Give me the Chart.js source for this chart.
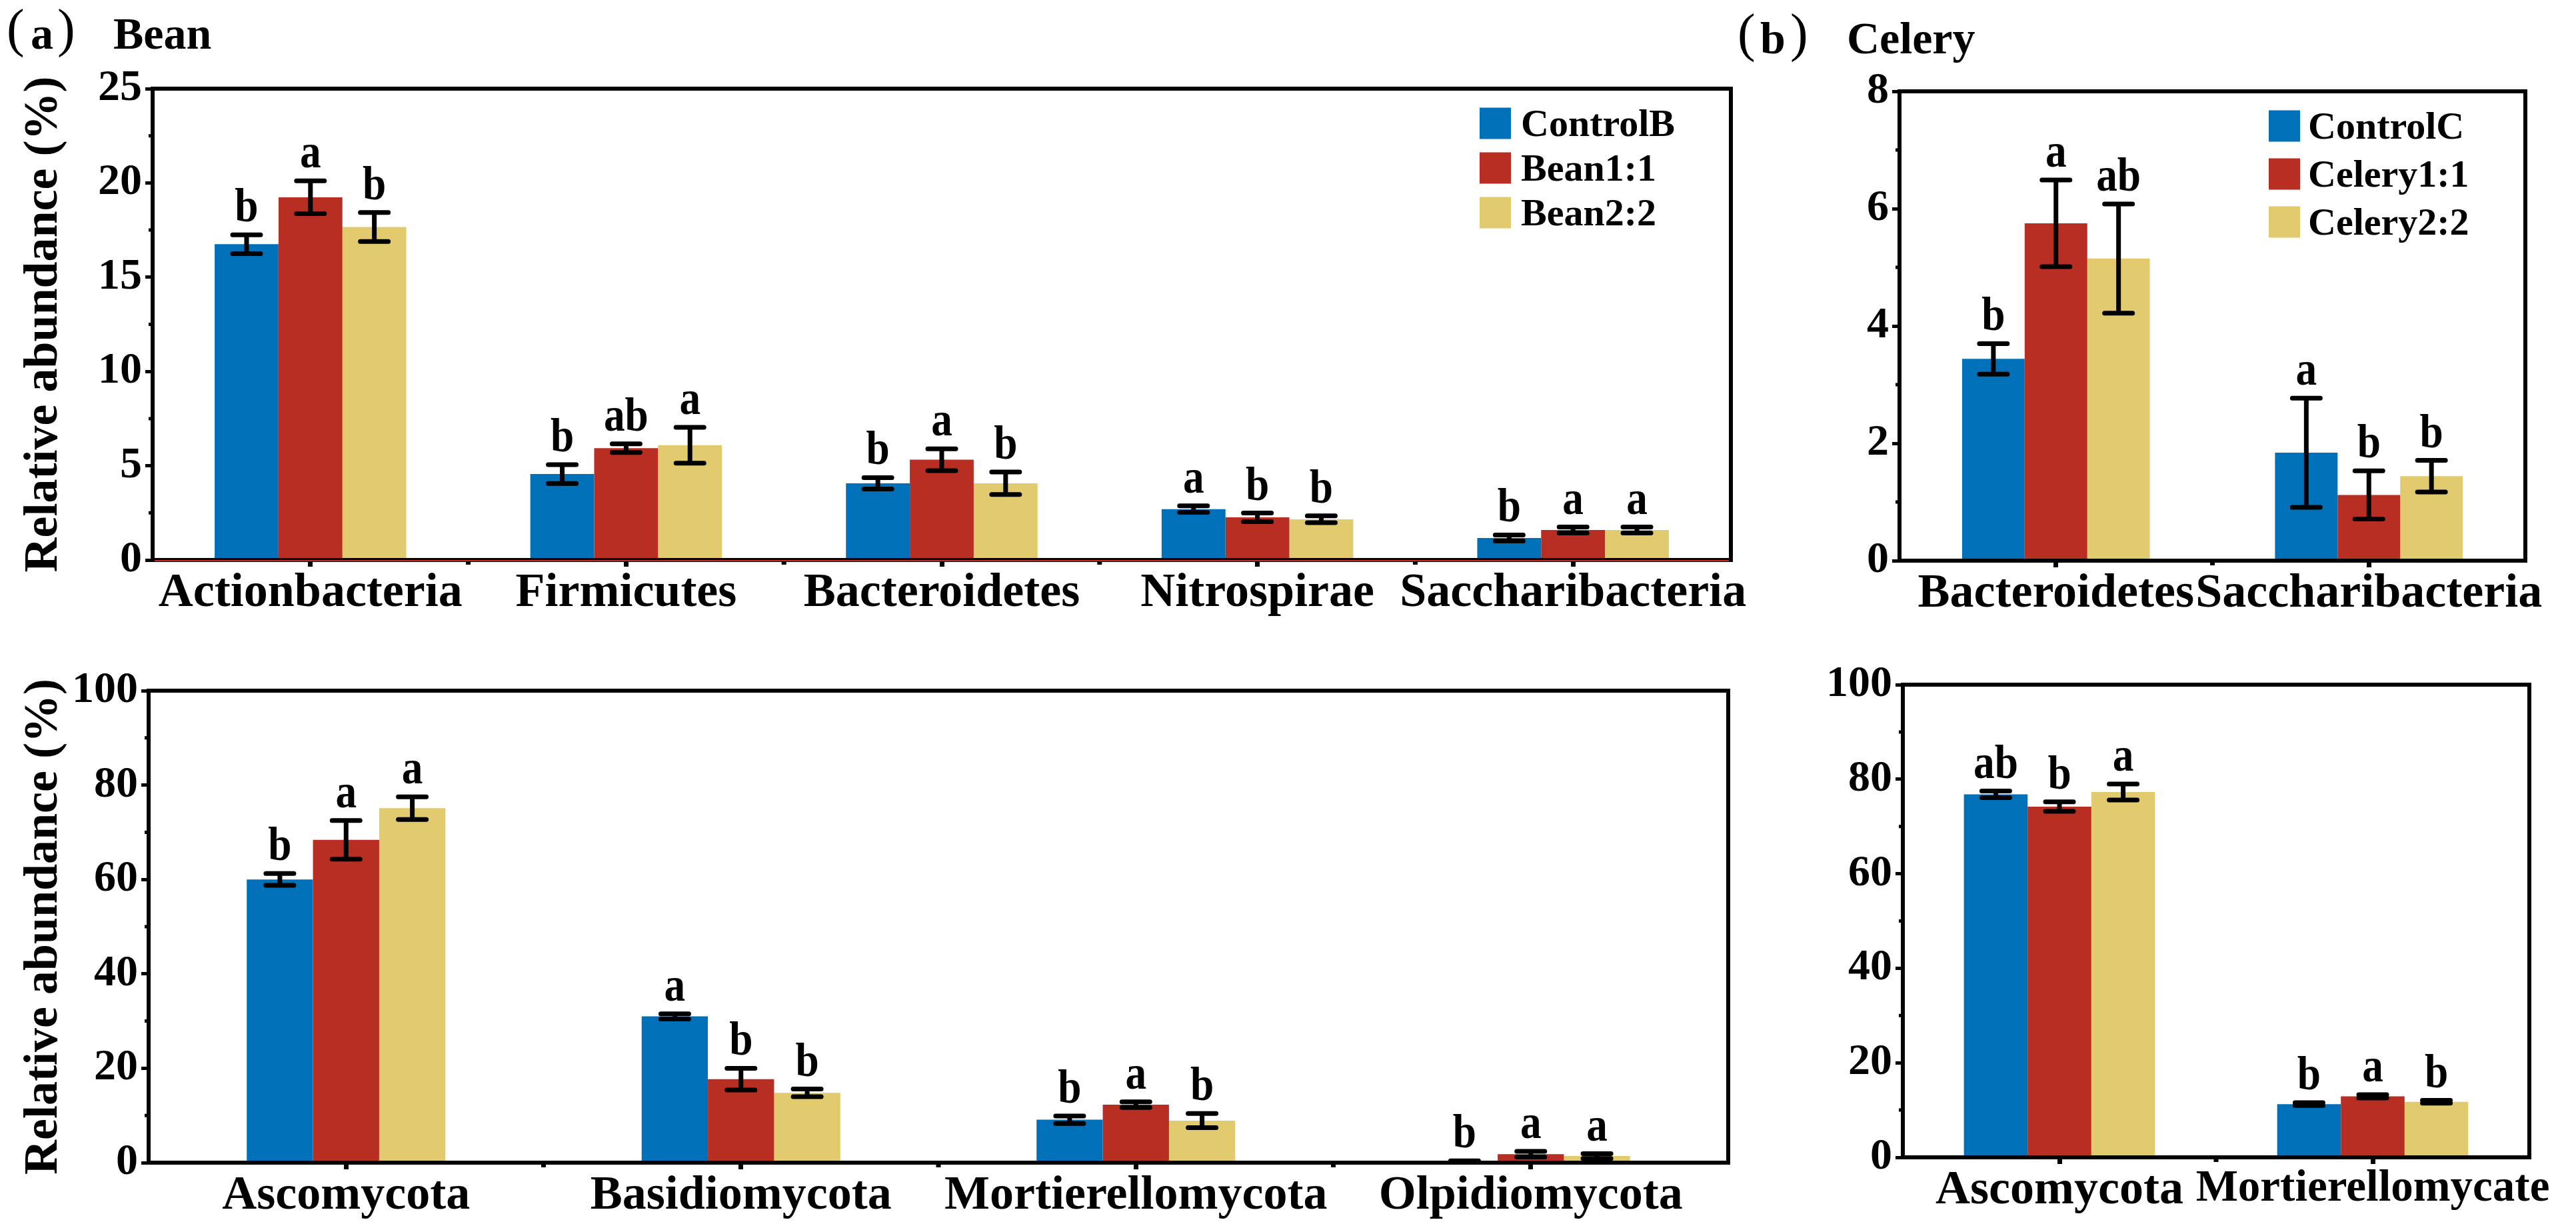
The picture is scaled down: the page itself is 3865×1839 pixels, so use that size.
<!DOCTYPE html>
<html><head><meta charset="utf-8">
<script src="https://cdn.jsdelivr.net/npm/chart.js@4.4.0/dist/chart.umd.min.js"></script>
<style>
html,body{margin:0;padding:0;background:#fff;width:3865px;height:1839px;overflow:hidden;position:relative;}
.pane{position:absolute;}
.t{position:absolute;font-family:'Liberation Serif','Times New Roman',serif;font-weight:bold;color:#000;line-height:1;white-space:nowrap;}
.p{position:absolute;font-family:'Liberation Serif','Times New Roman',serif;font-weight:normal;color:#000;line-height:1;white-space:nowrap;}
</style></head><body>
<div class="p" style="left:10px;top:2px;font-size:80px;">(</div>
<div class="t" style="left:46px;top:16px;font-size:68px;">a</div>
<div class="p" style="left:86px;top:2px;font-size:80px;">)</div>
<div class="t" style="left:170px;top:16px;font-size:68px;">Bean</div>
<div class="p" style="left:2607px;top:9px;font-size:80px;">(</div>
<div class="t" style="left:2641px;top:23px;font-size:68px;">b</div>
<div class="p" style="left:2686px;top:9px;font-size:80px;">)</div>
<div class="t" style="left:2771px;top:23px;font-size:68px;">Celery</div>
<script>
// ---------------- DATA ----------------
const seriesColors = ['#0070B8', '#B92E22', '#E1CB6E'];

// (a) Bean - bacteria
const beanBactCategories = ['Actionbacteria', 'Firmicutes', 'Bacteroidetes', 'Nitrospirae', 'Saccharibacteria'];
const beanBactNames = ['ControlB', 'Bean1:1', 'Bean2:2'];
const beanBactControlB = [16.75, 4.56, 4.07, 2.70, 1.17];
const beanBactControlBErr = [0.50, 0.50, 0.30, 0.17, 0.16];
const beanBactBean11 = [19.24, 5.93, 5.32, 2.26, 1.59];
const beanBactBean11Err = [0.87, 0.23, 0.58, 0.23, 0.16];
const beanBactBean22 = [17.66, 6.09, 4.07, 2.16, 1.59];
const beanBactBean22Err = [0.77, 0.95, 0.60, 0.18, 0.16];
const beanBactLettersControlB = ['b', 'b', 'b', 'a', 'b'];
const beanBactLettersBean11 = ['a', 'ab', 'a', 'b', 'a'];
const beanBactLettersBean22 = ['b', 'a', 'b', 'b', 'a'];
const beanBactYTicks = { max: 25, step: 5 };

// (b) Celery - bacteria
const celeryBactCategories = ['Bacteroidetes', 'Saccharibacteria'];
const celeryBactNames = ['ControlC', 'Celery1:1', 'Celery2:2'];
const celeryBactControlC = [3.44, 1.84];
const celeryBactControlCErr = [0.26, 0.93];
const celeryBactCelery11 = [5.75, 1.12];
const celeryBactCelery11Err = [0.74, 0.41];
const celeryBactCelery22 = [5.15, 1.44];
const celeryBactCelery22Err = [0.93, 0.27];
const celeryBactLettersControlC = ['b', 'a'];
const celeryBactLettersCelery11 = ['a', 'b'];
const celeryBactLettersCelery22 = ['ab', 'b'];
const celeryBactYTicks = { max: 8, step: 2 };

// (a) Bean - fungi
const beanFungiCategories = ['Ascomycota', 'Basidiomycota', 'Mortierellomycota', 'Olpidiomycota'];
const beanFungiControlB = [60.0, 31.0, 9.1, 0.3];
const beanFungiControlBErr = [1.25, 0.55, 0.8, 0.1];
const beanFungiBean11 = [68.4, 17.7, 12.3, 1.8];
const beanFungiBean11Err = [4.1, 2.3, 0.6, 0.6];
const beanFungiBean22 = [75.1, 14.8, 8.9, 1.4];
const beanFungiBean22Err = [2.4, 0.8, 1.5, 0.5];
const beanFungiLettersControlB = ['b', 'a', 'b', 'b'];
const beanFungiLettersBean11 = ['a', 'b', 'a', 'a'];
const beanFungiLettersBean22 = ['a', 'b', 'b', 'a'];
const beanFungiYTicks = { max: 100, step: 20 };

// (b) Celery - fungi
const celeryFungiCategories = ['Ascomycota', 'Mortierellomycate'];
const celeryFungiControlC = [76.8, 11.25];
const celeryFungiControlCErr = [0.7, 0.3];
const celeryFungiCelery11 = [74.2, 12.9];
const celeryFungiCelery11Err = [1.0, 0.35];
const celeryFungiCelery22 = [77.3, 11.75];
const celeryFungiCelery22Err = [1.7, 0.3];
const celeryFungiLettersControlC = ['ab', 'b'];
const celeryFungiLettersCelery11 = ['b', 'a'];
const celeryFungiLettersCelery22 = ['a', 'b'];
const celeryFungiYTicks = { max: 100, step: 20 };

const yTitle = 'Relative abundance (%)';

// ---------------- DRAWING ----------------
const FONT = "'Liberation Serif', 'Times New Roman', serif";

const decor = {
  id: 'decor',
  afterDatasetsDraw(chart, args, o) {
    const ctx = chart.ctx, ys = chart.scales.y;
    ctx.save();
    chart.data.datasets.forEach((ds, di) => {
      const meta = chart.getDatasetMeta(di);
      meta.data.forEach((bar, i) => {
        const v = ds.data[i], e = ds.errors[i];
        const yTop = ys.getPixelForValue(v + e);
        const yBot = ys.getPixelForValue(Math.max(v - e, 0));
        ctx.strokeStyle = '#000';
        ctx.lineCap = 'butt';
        ctx.lineWidth = 7;
        ctx.beginPath(); ctx.moveTo(bar.x, yTop); ctx.lineTo(bar.x, yBot); ctx.stroke();
        ctx.lineCap = 'round';
        ctx.lineWidth = 7;
        ctx.beginPath();
        ctx.moveTo(bar.x - 21, yTop); ctx.lineTo(bar.x + 21, yTop);
        ctx.moveTo(bar.x - 21, yBot); ctx.lineTo(bar.x + 21, yBot);
        ctx.stroke();
        ctx.save();
        ctx.fillStyle = '#000';
        ctx.font = 'bold 72px ' + FONT;
        ctx.textAlign = 'center'; ctx.textBaseline = 'alphabetic';
        ctx.translate(bar.x, yTop - 20);
        ctx.scale(0.88, 1);
        ctx.fillText(ds.letters[i], 0, 0);
        ctx.restore();
      });
    });
    ctx.restore();
  },
  afterDraw(chart, args, o) {
    const ctx = chart.ctx, ca = chart.chartArea, ys = chart.scales.y, xs = chart.scales.x;
    ctx.save();
    ctx.strokeStyle = '#000';
    ctx.lineCap = 'butt';
    // minor y ticks
    ctx.lineWidth = 5;
    const tk = ys.ticks;
    ctx.beginPath();
    for (let i = 0; i < tk.length - 1; i++) {
      const py = ys.getPixelForValue((tk[i].value + tk[i + 1].value) / 2);
      ctx.moveTo(ca.left - 6, py); ctx.lineTo(ca.left, py);
    }
    ctx.stroke();
    // minor x ticks at category boundaries
    ctx.lineWidth = 7;
    ctx.beginPath();
    const n = chart.data.labels.length;
    for (let i = 1; i < n; i++) {
      const px = (xs.getPixelForValue(i - 1) + xs.getPixelForValue(i)) / 2;
      ctx.moveTo(px, ca.bottom); ctx.lineTo(px, ca.bottom + 7);
    }
    ctx.stroke();
    // frame
    ctx.lineWidth = 6;
    ctx.strokeRect(ca.left, ca.top, ca.right - ca.left, ca.bottom - ca.top);
    if (o.redZero) {
      const y0 = ys.getPixelForValue(0);
      ctx.strokeStyle = '#C8281E'; ctx.lineWidth = 2;
      ctx.beginPath(); ctx.moveTo(ca.left + 3, y0 + 1); ctx.lineTo(ca.right - 3, y0 + 1); ctx.stroke();
    }
    // legend
    if (o.legend) {
      const L = o.legend;
      chart.data.datasets.forEach((ds, k) => {
        const cy = ca.top + L.dy + k * L.step;
        const bx = ca.right - L.dx;
        ctx.fillStyle = ds.backgroundColor;
        ctx.fillRect(bx, cy - 23.5, 47, 47);
        ctx.fillStyle = '#000';
        ctx.font = 'bold 58px ' + FONT;
        ctx.textAlign = 'left'; ctx.textBaseline = 'alphabetic';
        ctx.fillText(ds.label, bx + L.tx, cy + 19);
      });
    }
    ctx.restore();
  }
};
Chart.register(decor);

function makePanel(p) {
  const padTop = 60, padRight = 110, xH = 140;
  const { l, t, r, b, yW } = p.box;
  const div = document.createElement('div');
  div.className = 'pane';
  const w = (r + padRight) - (l - yW);
  const h = (b + xH) - (t - padTop);
  div.style.left = (l - yW) + 'px';
  div.style.top = (t - padTop) + 'px';
  div.style.width = w + 'px';
  div.style.height = h + 'px';
  const cv = document.createElement('canvas');
  cv.width = w; cv.height = h;
  cv.style.width = w + 'px'; cv.style.height = h + 'px';
  div.appendChild(cv);
  document.body.appendChild(div);
  const xSizes = p.xLabelSizes || [];
  new Chart(cv, {
    type: 'bar',
    data: {
      labels: p.categories,
      datasets: p.series.map((s, k) => ({
        label: s.name, data: s.values, errors: s.errors, letters: s.letters,
        backgroundColor: seriesColors[k], borderWidth: 0,
        categoryPercentage: p.catPct, barPercentage: 1.0
      }))
    },
    options: {
      responsive: false, animation: false,
      layout: { padding: { top: padTop, right: padRight, left: 0, bottom: 0 } },
      plugins: {
        legend: { display: false }, tooltip: { enabled: false },
        decor: { redZero: !!p.redZero, legend: p.legend || null }
      },
      scales: {
        x: {
          type: 'category', offset: true,
          grid: { display: true, offset: false, drawOnChartArea: false, drawTicks: true, tickLength: 10, tickWidth: 7, tickColor: '#000' },
          border: { display: false },
          ticks: { autoSkip: false, maxRotation: 0, minRotation: 0, padding: -3, color: '#000',
                   font: (c) => ({ family: FONT, size: xSizes[c.index] || 72, weight: 'bold' }) },
          afterFit(s) { s.height = xH; }
        },
        y: {
          min: 0, max: p.yTicks.max,
          ticks: { stepSize: p.yTicks.step, padding: 5, color: '#000',
                   font: { family: FONT, size: 66, weight: 'bold' } },
          grid: { display: true, drawOnChartArea: false, drawTicks: true, tickLength: 11, tickWidth: 5, tickColor: '#000' },
          border: { display: false },
          title: { display: !!p.yTitle, text: p.yTitle || '', color: '#000', padding: { top: 0, bottom: 0 },
                   font: { family: FONT, size: 72, weight: 'bold' } },
          afterFit(s) { s.width = yW; }
        }
      }
    }
  });
}

makePanel({
  box: { l: 229, t: 133, r: 2597, b: 840, yW: 206 },
  categories: beanBactCategories, catPct: 0.607, yTicks: beanBactYTicks, yTitle: yTitle, redZero: true,
  legend: { dx: 377, dy: 52, step: 67, tx: 62 },
  series: [
    { name: beanBactNames[0], values: beanBactControlB, errors: beanBactControlBErr, letters: beanBactLettersControlB },
    { name: beanBactNames[1], values: beanBactBean11, errors: beanBactBean11Err, letters: beanBactLettersBean11 },
    { name: beanBactNames[2], values: beanBactBean22, errors: beanBactBean22Err, letters: beanBactLettersBean22 }
  ]
});
makePanel({
  box: { l: 2850, t: 137, r: 3789, b: 841, yW: 160 },
  categories: celeryBactCategories, catPct: 0.6, yTicks: celeryBactYTicks,
  legend: { dx: 385, dy: 52, step: 72, tx: 59 },
  series: [
    { name: celeryBactNames[0], values: celeryBactControlC, errors: celeryBactControlCErr, letters: celeryBactLettersControlC },
    { name: celeryBactNames[1], values: celeryBactCelery11, errors: celeryBactCelery11Err, letters: celeryBactLettersCelery11 },
    { name: celeryBactNames[2], values: celeryBactCelery22, errors: celeryBactCelery22Err, letters: celeryBactLettersCelery22 }
  ]
});
makePanel({
  box: { l: 223, t: 1036, r: 2593, b: 1744, yW: 200 },
  categories: beanFungiCategories, catPct: 0.503, yTicks: beanFungiYTicks, yTitle: yTitle,
  series: [
    { name: beanBactNames[0], values: beanFungiControlB, errors: beanFungiControlBErr, letters: beanFungiLettersControlB },
    { name: beanBactNames[1], values: beanFungiBean11, errors: beanFungiBean11Err, letters: beanFungiLettersBean11 },
    { name: beanBactNames[2], values: beanFungiBean22, errors: beanFungiBean22Err, letters: beanFungiLettersBean22 }
  ]
});
makePanel({
  box: { l: 2855, t: 1027, r: 3795, b: 1736, yW: 160 },
  categories: celeryFungiCategories, catPct: 0.61, yTicks: celeryFungiYTicks, xLabelSizes: [72, 67],
  series: [
    { name: celeryBactNames[0], values: celeryFungiControlC, errors: celeryFungiControlCErr, letters: celeryFungiLettersControlC },
    { name: celeryBactNames[1], values: celeryFungiCelery11, errors: celeryFungiCelery11Err, letters: celeryFungiLettersCelery11 },
    { name: celeryBactNames[2], values: celeryFungiCelery22, errors: celeryFungiCelery22Err, letters: celeryFungiLettersCelery22 }
  ]
});
</script>
</body></html>
